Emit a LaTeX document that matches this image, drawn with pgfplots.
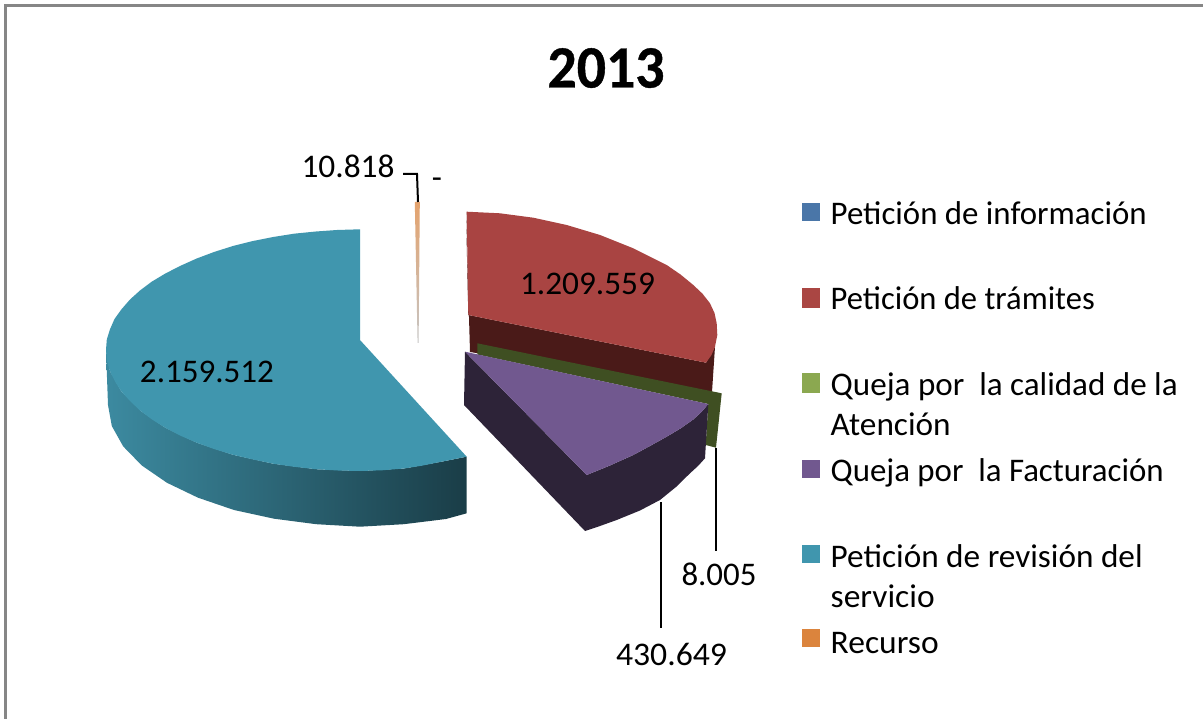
\documentclass[border=0pt]{standalone}
\usepackage{pgfplots}
\pgfplotsset{compat=1.18}
\usepackage{graphicx}
\usepackage{fontspec}
\setmainfont{Carlito}
\newfontfamily\titlefont[FakeBold=0.7]{Carlito Bold}
\definecolor{cblue}{HTML}{4A76A8}
\definecolor{cred}{HTML}{AA4643}
\definecolor{cgreen}{HTML}{8BA850}
\definecolor{cpurple}{HTML}{71588F}
\definecolor{cteal}{HTML}{4096AE}
\definecolor{corange}{HTML}{DB843D}
\definecolor{redtop}{HTML}{A94442}
\definecolor{redside}{HTML}{4A1A18}
\definecolor{greendark}{HTML}{3F4F22}
\definecolor{purpleside}{HTML}{2D2338}
\definecolor{tealL}{HTML}{3C8AA0}
\definecolor{tealM}{HTML}{2F6A7A}
\definecolor{tealR}{HTML}{1A3D47}
\definecolor{framegray}{HTML}{868686}
\newcommand{\fitw}[2]{\resizebox{#1pt}{\height}{\fontsize{33}{35}\selectfont #2}}
\begin{document}
\begin{tikzpicture}
\path[use as bounding box] (0,0) rectangle (1203pt,719pt);
\begin{axis}[
  scale only axis, width=1203pt, height=719pt,
  xmin=0, xmax=1203, ymin=0, ymax=719, y dir=reverse,
  axis lines=none, ticks=none, clip=true,
]
% frame
\addplot[draw=framegray, line width=2.5pt] coordinates {(5.5,719) (5.5,5.5) (1203,5.5)};
% teal side
\addplot[shading=axis, left color=tealL, middle color=tealM, right color=tealR, draw=none] coordinates {
 (106,350) (109.9,371) (121.3,391.4) (140,410.5) (165.4,427.8) (196.7,442.7) (233,454.8) (273.1,463.7) (315.9,469.2) (360,471) (404.1,468.5) (440,462) (466.7,456.7)
 (466.7,513.3) (446,519) (403.8,524.2) (360,526.7) (316.2,524.2) (274,518.7) (234,510) (198,497.7) (167,482.8) (141.8,465.5) (123.2,446.4) (111.8,426) (108,405)} -- cycle;
% teal top
\addplot[fill=cteal, draw=none] coordinates {
 (360,229.3) (337,230) (315.9,231.5) (294,233.7) (273.1,237) (253,241) (233,246) (214,252) (196.7,258.5) (180,266) (165.4,273.5) (152,281.5) (140,290.5) (130,299.5) (121.3,309.5) (114.5,319) (109.9,329.5) (106.8,339.5) (106,350) (107,361) (109.9,371) (115,381.5) (121.3,391.4) (130,401) (140,410.5) (152,419.5) (165.4,427.8) (180,435.5) (196.7,442.7) (214,449) (233,454.8) (253,459.5) (273.1,463.7) (294,466.8) (315.9,469.2) (338,470.5) (360,471) (382,470.3) (404.1,468.5) (422,465.7) (440,462) (466.7,456.7) (360,340)} -- cycle;
% orange sliver
\addplot[shading=axis, top color=corange!75!white, bottom color=gray!45, draw=none] coordinates {(414.8,202) (419.8,202) (418.6,343) (417.6,343)} -- cycle;
% red side
\addplot[fill=redside, draw=none] coordinates {(466,212) (468.3,315) (706,362.7) (715,346.7) (712,392) (470,352)} -- cycle;
% red top
\addplot[fill=redtop, draw=none] coordinates {(466.7,211.7) (500,213.3) (533.3,217.7) (566.7,225) (600,235) (633.3,248.3) (666.7,265) (680.5,274.5) (693.3,285) (702.5,293.7) (710,303.3) (714.5,313) (716.7,323.3) (717.3,335) (715,346.7) (711.5,355) (706,362.7) (468.3,315)} -- cycle;
% green
\addplot[fill=greendark, draw=none] coordinates {(477.3,343.3) (721.7,393.3) (716,447.7) (705.7,445) (708.3,404) (477.3,354.5)} -- cycle;
% purple side
\addplot[fill=purpleside, draw=none] coordinates {(465,351.7) (586.7,475) (610,465.5) (633.3,455) (650,446) (666.7,436.7) (680.5,428.5) (693.3,419.5) (701.5,412) (708.3,404) (705,458.3) (698,466) (690,473.3) (676,487) (660,500) (640,510.5) (616.7,520) (600,526) (585,531) (464,405)} -- cycle;
% purple top
\addplot[fill=cpurple, draw=none] coordinates {(465,351.7) (708.3,404) (701.5,412) (693.3,419.5) (680.5,428.5) (666.7,436.7) (650,446) (633.3,455) (610,465.5) (586.7,475)} -- cycle;
% leaders
\addplot[draw=black, line width=2pt] coordinates {(403,174) (417,174) (418,202)};
\addplot[draw=black, line width=2pt] coordinates {(661,502) (661,628)};
\addplot[draw=black, line width=2pt] coordinates {(715.7,448) (715.7,550.7)};
% legend markers
\addplot[fill=cblue, draw=none] coordinates {(802,203.3) (820,203.3) (820,221) (802,221)} -- cycle;
\addplot[fill=cred, draw=none] coordinates {(802,288) (820,288) (820,308) (802,308)} -- cycle;
\addplot[fill=cgreen, draw=none] coordinates {(802,373) (820,373) (820,393) (802,393)} -- cycle;
\addplot[fill=cpurple, draw=none] coordinates {(802,460) (820,460) (820,478) (802,478)} -- cycle;
\addplot[fill=cteal, draw=none] coordinates {(802,545) (820,545) (820,563) (802,563)} -- cycle;
\addplot[fill=corange, draw=none] coordinates {(802,629) (820,629) (820,647) (802,647)} -- cycle;
% text
\node[anchor=base, inner sep=0pt] at (axis cs:606,87.5) {\resizebox{117pt}{\height}{\fontsize{60}{62}\selectfont\titlefont 2013}};
\node[anchor=base west, inner sep=0pt] at (axis cs:830.5,225) {\fitw{316}{Petición de información}};
\node[anchor=base west, inner sep=0pt] at (axis cs:830.5,310) {\fitw{264}{Petición de trámites}};
\node[anchor=base west, inner sep=0pt] at (axis cs:830.5,396) {\fitw{347}{Queja por\ \ la calidad de la}};
\node[anchor=base west, inner sep=0pt] at (axis cs:830.5,436) {\fitw{120}{Atención}};
\node[anchor=base west, inner sep=0pt] at (axis cs:830.5,482) {\fitw{333}{Queja por\ \ la Facturación}};
\node[anchor=base west, inner sep=0pt] at (axis cs:830.5,567) {\fitw{312}{Petición de revisión del}};
\node[anchor=base west, inner sep=0pt] at (axis cs:830.5,607) {\fitw{104}{servicio}};
\node[anchor=base west, inner sep=0pt] at (axis cs:830.5,653) {\fitw{108}{Recurso}};
\node[anchor=base, inner sep=0pt] at (axis cs:587.5,295) {\fitw{135}{1.209.559}};
\node[anchor=base, inner sep=0pt] at (axis cs:207,382.7) {\fitw{134}{2.159.512}};
\node[anchor=base, inner sep=0pt] at (axis cs:348,178) {\fitw{93}{10.818}};
\node[anchor=base, inner sep=0pt] at (axis cs:719,585) {\fitw{75}{8.005}};
\node[anchor=base, inner sep=0pt] at (axis cs:671.5,665) {\fitw{111}{430.649}};
\node[anchor=base, inner sep=0pt] at (axis cs:437,189) {\fontsize{33}{35}\selectfont -};
\end{axis}
\end{tikzpicture}
\end{document}
